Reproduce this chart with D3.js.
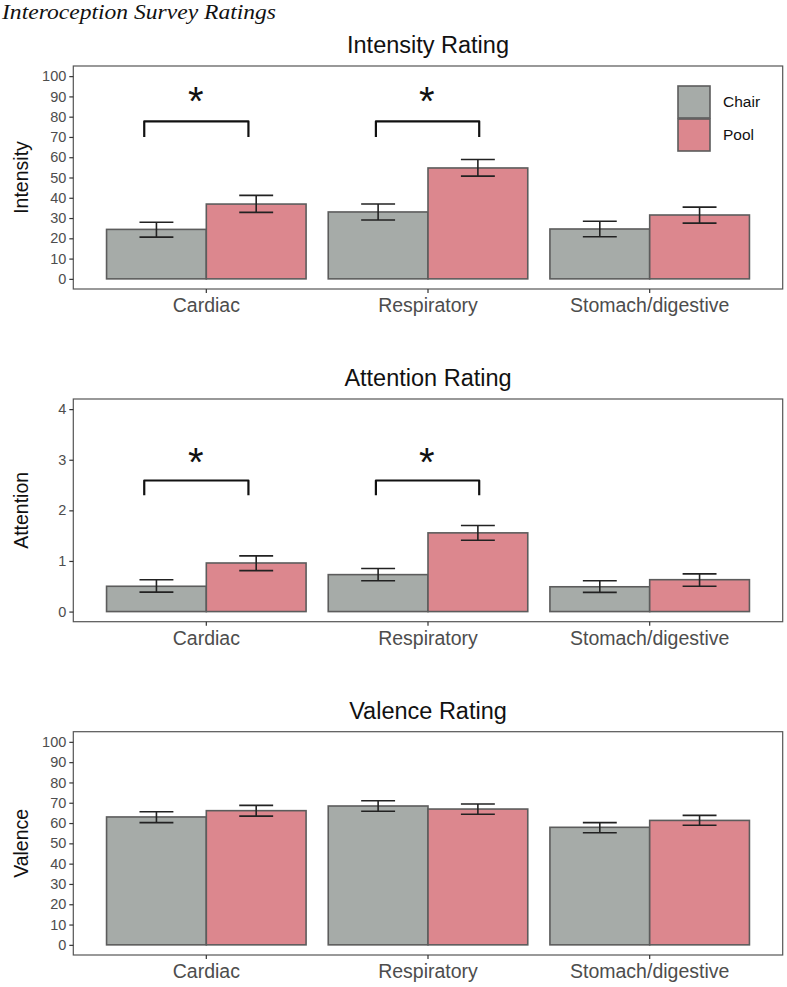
<!DOCTYPE html>
<html><head><meta charset="utf-8">
<script src="https://cdn.jsdelivr.net/npm/d3@7"></script>
<style>
body{margin:0;background:#fff;}
svg{display:block;}
text{font-family:"Liberation Sans",Arial,sans-serif;}
</style></head>
<body>
<svg id="chart" width="787" height="987"></svg>
<script>
// ---------- DATA ----------
const categories = ["Cardiac", "Respiratory", "Stomach/digestive"];
const groups = ["Chair", "Pool"];

const intensityChair = [24.4, 33.0, 24.6];
const intensityChairLo = [20.6, 29.0, 20.8];
const intensityChairHi = [27.9, 36.9, 28.4];
const intensityPool = [36.9, 54.7, 31.5];
const intensityPoolLo = [32.8, 50.7, 27.5];
const intensityPoolHi = [41.2, 58.9, 35.4];

const attentionChair = [0.50, 0.73, 0.49];
const attentionChairLo = [0.385, 0.61, 0.38];
const attentionChairHi = [0.63, 0.85, 0.61];
const attentionPool = [0.96, 1.555, 0.63];
const attentionPoolLo = [0.81, 1.41, 0.50];
const attentionPoolHi = [1.10, 1.70, 0.745];

const valenceChair = [63.0, 68.4, 57.9];
const valenceChairLo = [60.2, 65.8, 55.2];
const valenceChairHi = [65.6, 71.0, 60.2];
const valencePool = [66.1, 66.9, 61.3];
const valencePoolLo = [63.4, 64.3, 58.9];
const valencePoolHi = [68.7, 69.4, 63.8];

const ticks100 = [0, 10, 20, 30, 40, 50, 60, 70, 80, 90, 100];
const ticks4 = [0, 1, 2, 3, 4];

// significance brackets: [xStart, xEnd] in discrete-axis units (1 = first category)
const intensityBrackets = [[0.72, 1.19], [1.765, 2.231]];
const intensityBracketTop = 77.7, intensityBracketEnd = 70.0, intensityStar = 91.5;
const attentionBrackets = [[0.72, 1.19], [1.765, 2.231]];
const attentionBracketTop = 2.59, attentionBracketEnd = 2.30, attentionStar = 3.12;
const starX = [0.952, 1.994];

const mainTitle = "Interoception Survey Ratings";
const panelTitles = ["Intensity Rating", "Attention Rating", "Valence Rating"];
const yTitles = ["Intensity", "Attention", "Valence"];

// ---------- STYLE ----------
const colors = {Chair: "#a6aba8", Pool: "#dc878e"};
const barStroke = "#5c5c5c";
const L = 73.3, R = 782.7;

const svg = d3.select("#chart");

svg.append("text").attr("x", 2).attr("y", 19)
  .attr("textLength", 274).attr("lengthAdjust", "spacingAndGlyphs")
  .style("font-family", '"Liberation Serif","Times New Roman",serif')
  .style("font-style", "italic").style("font-size", "21px").attr("fill", "#111")
  .text(mainTitle);

const xBand = d3.scaleBand().domain(categories).range([L, R]).paddingInner(0.1).paddingOuter(0.15);
const xSub = d3.scaleBand().domain(groups).range([0, xBand.bandwidth()]);
const xLin = d3.scaleLinear().domain([0.4, 3.6]).range([L, R]);

function makeData(chair, chairLo, chairHi, pool, poolLo, poolHi) {
  const out = [];
  categories.forEach((c, i) => {
    out.push({cat: c, grp: "Chair", v: chair[i], lo: chairLo[i], hi: chairHi[i]});
    out.push({cat: c, grp: "Pool", v: pool[i], lo: poolLo[i], hi: poolHi[i]});
  });
  return out;
}

const panels = [
  {top: 66, bottom: 289, domain: [-5, 105], ticks: ticks100,
   data: makeData(intensityChair, intensityChairLo, intensityChairHi, intensityPool, intensityPoolLo, intensityPoolHi),
   brackets: intensityBrackets, bTop: intensityBracketTop, bEnd: intensityBracketEnd, star: intensityStar, legend: true},
  {top: 399, bottom: 621.7, domain: [-0.2, 4.2], ticks: ticks4,
   data: makeData(attentionChair, attentionChairLo, attentionChairHi, attentionPool, attentionPoolLo, attentionPoolHi),
   brackets: attentionBrackets, bTop: attentionBracketTop, bEnd: attentionBracketEnd, star: attentionStar},
  {top: 731.7, bottom: 955, domain: [-5, 105], ticks: ticks100,
   data: makeData(valenceChair, valenceChairLo, valenceChairHi, valencePool, valencePoolLo, valencePoolHi)}
];

panels.forEach((p, pi) => {
  const y = d3.scaleLinear().domain(p.domain).range([p.bottom, p.top]);
  const g = svg.append("g");

  // title
  g.append("text").attr("x", (L + R) / 2).attr("y", p.top - 13)
    .attr("text-anchor", "middle").style("font-size", "23.5px").attr("fill", "#111")
    .text(panelTitles[pi]);

  // bars
  g.selectAll("rect.bar").data(p.data).join("rect").attr("class", "bar")
    .attr("x", d => xBand(d.cat) + xSub(d.grp))
    .attr("width", xSub.bandwidth())
    .attr("y", d => y(d.v))
    .attr("height", d => y(0) - y(d.v))
    .attr("fill", d => colors[d.grp])
    .attr("stroke", barStroke).attr("stroke-width", 1.6);

  // error bars
  const ew = xSub.bandwidth() * 0.34;
  const eb = g.selectAll("g.err").data(p.data).join("g").attr("class", "err")
    .attr("stroke", "#222").attr("stroke-width", 1.6).attr("fill", "none");
  eb.each(function(d) {
    const cx = xBand(d.cat) + xSub(d.grp) + xSub.bandwidth() / 2;
    const s = d3.select(this);
    s.append("line").attr("x1", cx).attr("x2", cx).attr("y1", y(d.lo)).attr("y2", y(d.hi));
    s.append("line").attr("x1", cx - ew / 2).attr("x2", cx + ew / 2).attr("y1", y(d.lo)).attr("y2", y(d.lo));
    s.append("line").attr("x1", cx - ew / 2).attr("x2", cx + ew / 2).attr("y1", y(d.hi)).attr("y2", y(d.hi));
  });

  // brackets
  if (p.brackets) {
    p.brackets.forEach((b, bi) => {
      const path = d3.path();
      path.moveTo(xLin(b[0]), y(p.bEnd));
      path.lineTo(xLin(b[0]), y(p.bTop));
      path.lineTo(xLin(b[1]), y(p.bTop));
      path.lineTo(xLin(b[1]), y(p.bEnd));
      g.append("path").attr("d", path.toString()).attr("fill", "none")
        .attr("stroke", "#111").attr("stroke-width", 2.2).attr("stroke-linejoin", "round");
      g.append("text").attr("x", xLin(starX[bi])).attr("y", y(p.star) + 22)
        .attr("text-anchor", "middle").style("font-size", "40px").attr("fill", "#111").text("*");
    });
  }

  // panel border
  g.append("rect").attr("x", L).attr("y", p.top).attr("width", R - L).attr("height", p.bottom - p.top)
    .attr("fill", "none").attr("stroke", "#555").attr("stroke-width", 1.2);

  // y axis
  const ya = g.append("g").attr("transform", `translate(${L},0)`)
    .call(d3.axisLeft(y).tickValues(p.ticks).tickSize(4).tickPadding(3).tickFormat(d3.format("d")));
  ya.select(".domain").remove();
  ya.selectAll(".tick line").attr("stroke", "#333").attr("stroke-width", 1.2);
  ya.selectAll(".tick text").attr("fill", "#4d4d4d").style("font-size", "14.5px")
    .style("font-family", '"Liberation Sans",Arial,sans-serif');

  // x axis
  const xa = g.append("g").attr("transform", `translate(0,${p.bottom})`)
    .call(d3.axisBottom(xBand).tickSize(4).tickPadding(5));
  xa.select(".domain").remove();
  xa.selectAll(".tick line").attr("stroke", "#333").attr("stroke-width", 1.2);
  xa.selectAll(".tick text").attr("fill", "#4d4d4d").style("font-size", "19.5px")
    .style("font-family", '"Liberation Sans",Arial,sans-serif');

  // y title
  g.append("text").attr("transform", `translate(28,${(p.top + p.bottom) / 2}) rotate(-90)`)
    .attr("text-anchor", "middle").style("font-size", "19.5px").attr("fill", "#111")
    .text(yTitles[pi]);

  // legend
  if (p.legend) {
    const lg = g.append("g");
    groups.forEach((gr, i) => {
      lg.append("rect").attr("x", 678).attr("y", 86 + i * 33).attr("width", 32).attr("height", 32)
        .attr("fill", colors[gr]).attr("stroke", barStroke).attr("stroke-width", 1.6);
      lg.append("text").attr("x", 723).attr("y", 102 + i * 33).attr("dy", "0.35em")
        .style("font-size", "15.5px").attr("fill", "#111").text(gr);
    });
  }
});
</script>
</body></html>
